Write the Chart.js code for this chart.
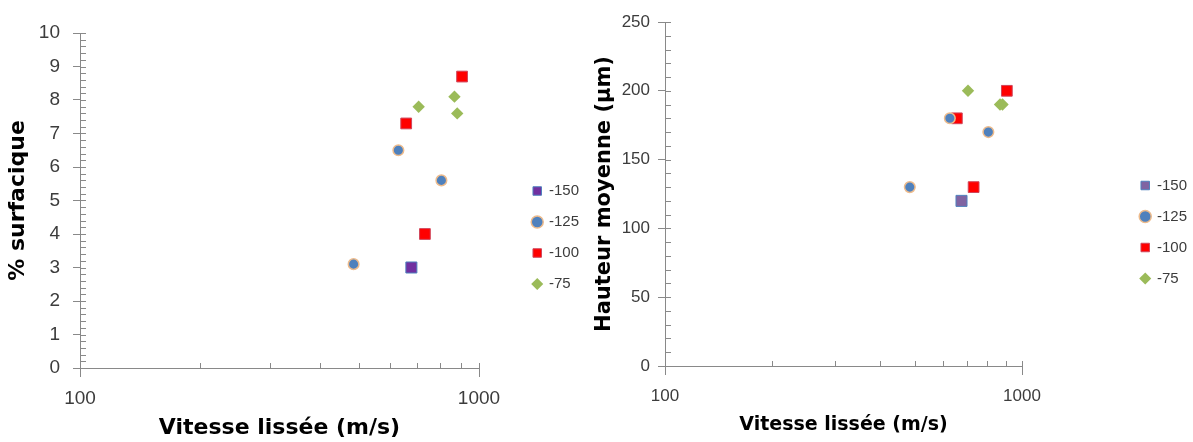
<!DOCTYPE html>
<html>
<head>
<meta charset="utf-8">
<script src="https://cdn.jsdelivr.net/npm/chart.js@4.4.1/dist/chart.umd.min.js"></script>
<style>
  html, body { margin: 0; padding: 0; background: #fff; }
  #wrap { position: relative; width: 1193px; height: 442px; }
  .box { position: absolute; top: 0; height: 442px; }
  #left { left: 0; width: 590px; }
  #right { left: 590px; width: 603px; }
</style>
</head>
<body>
<div id="wrap">
  <div class="box" id="left"><canvas id="chart-surface"></canvas></div>
  <div class="box" id="right"><canvas id="chart-hauteur"></canvas></div>
</div>
<script>
// séries (vitesse lissée en m/s)
const seriesLabels = ['-150', '-125', '-100', '-75'];
const speed150 = [677];
const speed125 = [485, 628, 805];
const speed100 = [657, 907, 732];
const speed75 = [706, 868, 882];

// % surfacique
const surface150 = [3.0];
const surface125 = [3.1, 6.5, 5.6];
const surface100 = [7.3, 8.7, 4.0];
const surface75 = [7.8, 8.1, 7.6];

// hauteur moyenne (µm)
const hauteur150 = [120];
const hauteur125 = [130, 180, 170];
const hauteur100 = [180, 200, 130];
const hauteur75 = [200, 190, 190];

// axes
const xLabelled = [100, 1000];
const xMinor = [200, 300, 400, 500, 600, 700, 800, 900];
const surfaceTicks = [0, 10, 1, 0.2];   // min, max, pas, pas mineur
const hauteurTicks = [0, 250, 50, 10];

const AXIS = '#898989';
const TEXT = '#3c3c3c';

const pts = (xs, ys) => xs.map((x, i) => ({ x: x, y: ys[i] }));

// graduations : mineures vers l'intérieur, majeures de l'axe x vers le bas
const axisTicks = {
  id: 'axisTicks',
  afterDraw(chart, args, opts) {
    const { ctx, scales: { x, y } } = chart;
    ctx.save();
    ctx.strokeStyle = AXIS;
    ctx.lineWidth = 1;
    ctx.beginPath();
    for (let v = y.min; v <= y.max + 1e-9; v += opts.yStep) {
      const py = Math.round(y.getPixelForValue(v)) + 0.5;
      ctx.moveTo(x.left, py);
      ctx.lineTo(x.left + opts.len, py);
    }
    xMinor.forEach(v => {
      const px = Math.round(x.getPixelForValue(v)) + 0.5;
      ctx.moveTo(px, y.bottom);
      ctx.lineTo(px, y.bottom - opts.xLen);
    });
    xLabelled.forEach(v => {
      const px = Math.round(x.getPixelForValue(v)) + 0.5;
      ctx.moveTo(px, y.bottom - (v === 1000 ? opts.xLen : 0));
      ctx.lineTo(px, y.bottom + 9);
    });
    ctx.stroke();
    ctx.restore();
  }
};

// décale la légende vers la droite du graphe
const legendGap = {
  id: 'legendGap',
  afterLayout(chart, args, opts) {
    const lg = chart.legend;
    if (!lg) return;
    const w = lg.right - lg.left;
    lg.left = chart.chartArea.right + opts.gap;
    lg.right = lg.left + w;
  }
};

function makeDatasets(ys, purple) {
  return [
    { label: seriesLabels[0], data: pts(speed150, ys[0]), pointStyle: 'rect', pointRadius: 7.8,
      backgroundColor: purple, borderColor: '#4F81BD', borderWidth: 1 },
    { label: seriesLabels[1], data: pts(speed125, ys[1]), pointStyle: 'circle', pointRadius: 5.3,
      backgroundColor: '#4F81BD', borderColor: '#EDBB8C', borderWidth: 1.5 },
    { label: seriesLabels[2], data: pts(speed100, ys[2]), pointStyle: 'rect', pointRadius: 7.6,
      backgroundColor: '#FF0000', borderColor: '#D0455A', borderWidth: 1 },
    { label: seriesLabels[3], data: pts(speed75, ys[3]), pointStyle: 'rectRot', pointRadius: 6.2,
      backgroundColor: '#9BBB59', borderColor: '#9BBB59', borderWidth: 0 }
  ];
}

function buildChart(id, o) {
  const ctx = document.getElementById(id).getContext('2d');
  return new Chart(ctx, {
    type: 'scatter',
    data: { datasets: makeDatasets(o.ys, o.purple) },
    plugins: [axisTicks, legendGap],
    options: {
      responsive: true,
      maintainAspectRatio: false,
      animation: false,
      layout: { padding: { top: o.top, right: o.padRight, bottom: 0, left: 0 } },
      plugins: {
        tooltip: { enabled: false },
        axisTicks: { yStep: o.ticks[3], len: 6, xLen: 5 },
        legendGap: { gap: o.legendGap },
        legend: {
          position: 'right',
          labels: {
            usePointStyle: true,
            boxWidth: 8.5,
            boxHeight: 8.5,
            padding: 16,
            color: TEXT,
            font: { family: 'Liberation Sans', size: 15 }
          }
        }
      },
      scales: {
        x: {
          type: 'logarithmic',
          min: 100,
          max: 1000,
          afterFit: s => { s.height = o.xHeight; },
          border: { color: AXIS, width: 1 },
          grid: { drawOnChartArea: false, drawTicks: true, tickLength: 9, tickColor: 'rgba(0,0,0,0)' },
          ticks: {
            autoSkip: false,
            maxRotation: 0,
            padding: o.xTickPad,
            color: TEXT,
            font: { family: 'Liberation Sans', size: o.tickSize },
            callback: v => xLabelled.includes(v) ? String(v) : ''
          },
          title: {
            display: true,
            text: 'Vitesse lissée (m/s)',
            color: '#000',
            padding: { top: 0, bottom: o.xTitlePad },
            font: { family: 'DejaVu Sans', weight: 'bold', size: o.xTitleSize, lineHeight: 1.2 }
          }
        },
        y: {
          min: o.ticks[0],
          max: o.ticks[1],
          afterFit: s => { s.width = o.yWidth; },
          border: { color: AXIS, width: 1 },
          grid: { drawOnChartArea: false, tickLength: 7, tickColor: AXIS },
          ticks: {
            stepSize: o.ticks[2],
            padding: o.yTickPad,
            color: TEXT,
            font: { family: 'Liberation Sans', size: o.tickSize }
          },
          title: {
            display: true,
            text: o.yTitle,
            color: '#000',
            padding: { top: o.yTitlePad, bottom: 0 },
            font: { family: 'DejaVu Sans', weight: 'bold', size: o.yTitleSize, lineHeight: 1.2 }
          }
        }
      }
    }
  });
}

buildChart('chart-surface', {
  ys: [surface150, surface125, surface100, surface75],
  purple: '#7030A0',
  ticks: surfaceTicks,
  yTitle: '% surfacique',
  top: 33, padRight: 39, legendGap: 38,
  xHeight: 74, yWidth: 80,
  tickSize: 19, xTickPad: 10, yTickPad: 13,
  xTitleSize: 22, xTitlePad: 1, yTitleSize: 22, yTitlePad: 5
});

buildChart('chart-hauteur', {
  ys: [hauteur150, hauteur125, hauteur100, hauteur75],
  purple: '#8064A2',
  ticks: hauteurTicks,
  yTitle: 'Hauteur moyenne (µm)',
  top: 22, padRight: 99, legendGap: 103,
  xHeight: 76, yWidth: 75,
  tickSize: 17, xTickPad: 11, yTickPad: 8,
  xTitleSize: 19, xTitlePad: 6, yTitleSize: 21, yTitlePad: 2
});
</script>
</body>
</html>
